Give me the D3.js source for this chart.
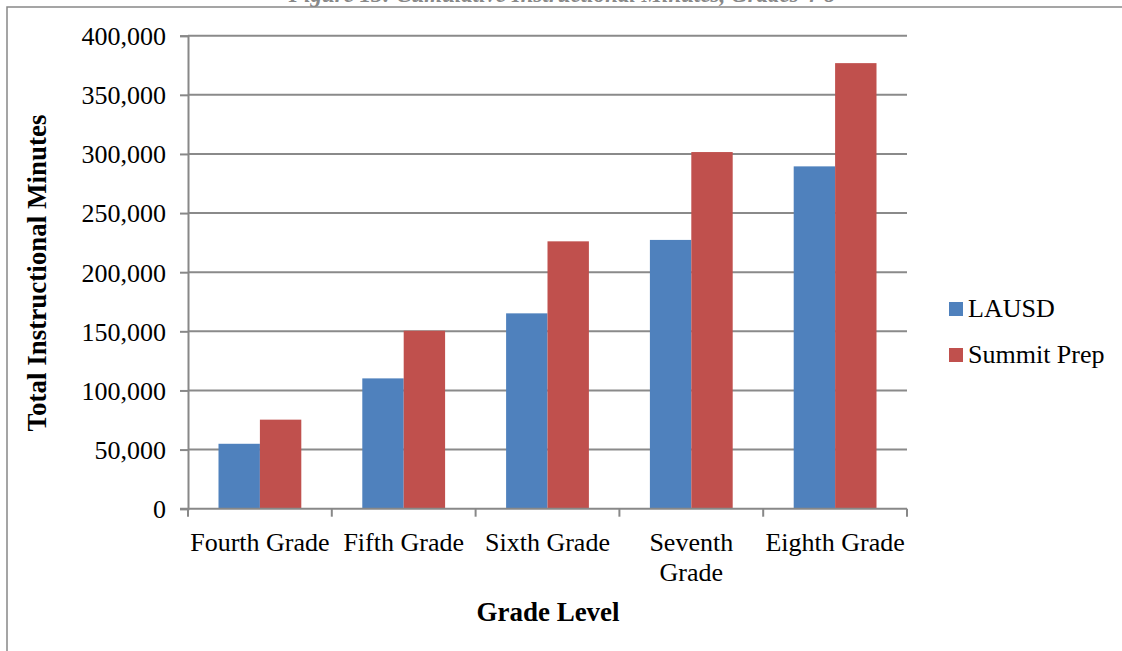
<!DOCTYPE html>
<html>
<head>
<meta charset="utf-8">
<script src="https://cdn.jsdelivr.net/npm/d3@7"></script>
<style>
  html, body { margin: 0; padding: 0; background: #fff; overflow: hidden; }
  text { font-family: "Liberation Serif", "Times New Roman", serif; fill: #000; }
</style>
</head>
<body>
<svg id="chart" width="1122" height="651"></svg>
<script>
// chart data
const grades = ['Fourth Grade', 'Fifth Grade', 'Sixth Grade', 'Seventh Grade', 'Eighth Grade'];
const seriesNames = ['LAUSD', 'Summit Prep'];
const lausd = [54900, 110200, 165200, 227300, 289500];
const summit = [75300, 150500, 226100, 301600, 376800];
const yTicks = [0, 50000, 100000, 150000, 200000, 250000, 300000, 350000, 400000];
const colors = ['#4F81BD', '#C0504D'];

const svg = d3.select('#chart');
const margin = { left: 188, right: 907, top: 35.7, bottom: 508.7 };
const fontSize = '26px';

// frame around the chart (only top and left edges fit in the window)
svg.append('rect')
  .attr('x', 7).attr('y', 7)
  .attr('width', 1200).attr('height', 800)
  .attr('fill', 'none')
  .attr('stroke', '#888')
  .attr('stroke-width', 1.5);

// title sits mostly above the visible window
svg.append('text')
  .attr('x', 562).attr('y', 2)
  .attr('text-anchor', 'middle')
  .style('font-size', '23px')
  .style('font-weight', 'bold')
  .style('font-style', 'italic')
  .style('fill', '#888')
  .text('Figure 13: Cumulative Instructional Minutes, Grades 4-8');

const x = d3.scaleBand()
  .domain(grades)
  .range([margin.left, margin.right])
  .paddingInner(0)
  .paddingOuter(0);

const y = d3.scaleLinear()
  .domain([0, 400000])
  .range([margin.bottom, margin.top]);

const groupPad = 30.5;
const barW = (x.bandwidth() - 2 * groupPad) / 2;

// gridlines
svg.append('g')
  .selectAll('line')
  .data(yTicks.filter(d => d > 0))
  .join('line')
  .attr('x1', margin.left).attr('x2', margin.right)
  .attr('y1', d => y(d)).attr('y2', d => y(d))
  .attr('stroke', '#8a8a8a')
  .attr('stroke-width', 2);

// bars
const bars = svg.append('g');
[lausd, summit].forEach((vals, si) => {
  bars.selectAll(null)
    .data(vals)
    .join('rect')
    .attr('x', (d, i) => x(grades[i]) + groupPad + si * barW)
    .attr('y', d => y(d))
    .attr('width', barW)
    .attr('height', d => y(0) - y(d))
    .attr('fill', colors[si]);
});

// y axis
const yAxis = d3.axisLeft(y)
  .tickValues(yTicks)
  .tickSize(8)
  .tickPadding(14)
  .tickFormat(d3.format(','));

svg.append('g')
  .attr('transform', `translate(${margin.left},0)`)
  .call(yAxis)
  .call(g => g.select('.domain').attr('stroke', '#888').attr('stroke-width', 2))
  .call(g => g.selectAll('.tick line').attr('stroke', '#888').attr('stroke-width', 2))
  .call(g => g.selectAll('.tick text')
    .style('font-size', fontSize)
    .attr('font-family', null)
    .attr('dy', '0.34em'));

// x axis line and boundary ticks
svg.append('line')
  .attr('x1', margin.left - 8).attr('x2', margin.right)
  .attr('y1', y(0)).attr('y2', y(0))
  .attr('stroke', '#888').attr('stroke-width', 2);

const bounds = grades.map(g => x(g)).concat([margin.right]);
svg.append('g')
  .selectAll('line')
  .data(bounds)
  .join('line')
  .attr('x1', d => d).attr('x2', d => d)
  .attr('y1', y(0)).attr('y2', y(0) + 8)
  .attr('stroke', '#888').attr('stroke-width', 2);

// category labels, wrapped when they do not fit
const xLabels = svg.append('g');
grades.forEach(g => {
  const cx = x(g) + x.bandwidth() / 2;
  const lines = g === 'Seventh Grade' ? ['Seventh', 'Grade'] : [g];
  const t = xLabels.append('text')
    .attr('x', cx)
    .attr('y', 551)
    .attr('text-anchor', 'middle')
    .style('font-size', fontSize);
  lines.forEach((ln, i) => {
    t.append('tspan').attr('x', cx).attr('dy', i === 0 ? 0 : 30).text(ln);
  });
});

// axis titles
svg.append('text')
  .attr('x', 548).attr('y', 621)
  .attr('text-anchor', 'middle')
  .style('font-size', '27px')
  .style('font-weight', 'bold')
  .text('Grade Level');

svg.append('text')
  .attr('transform', 'translate(46,273) rotate(-90)')
  .attr('text-anchor', 'middle')
  .style('font-size', '27px')
  .style('font-weight', 'bold')
  .text('Total Instructional Minutes');

// legend
const legend = svg.append('g').attr('transform', 'translate(949,302)');
seriesNames.forEach((name, i) => {
  const row = legend.append('g').attr('transform', `translate(0,${i * 46})`);
  row.append('rect')
    .attr('width', 14).attr('height', 14)
    .attr('fill', colors[i]);
  row.append('text')
    .attr('x', 19).attr('y', 15)
    .style('font-size', fontSize)
    .text(name);
});
</script>
</body>
</html>
